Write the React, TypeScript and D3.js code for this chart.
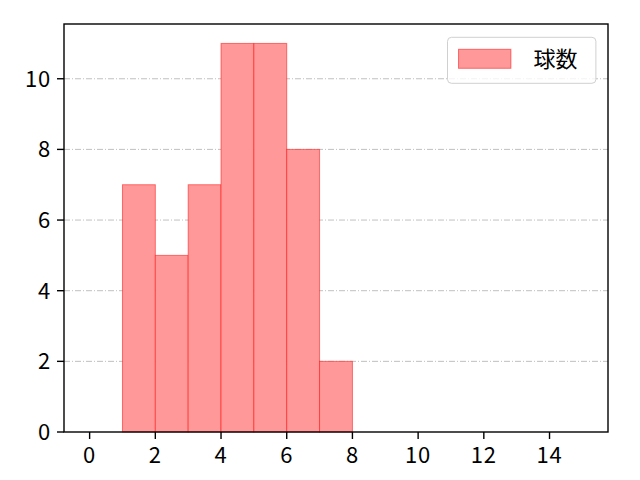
import React from 'react';
import * as d3 from 'd3';

const binStarts = [0, 1, 2, 3, 4, 5, 6, 7, 8, 9, 10, 11, 12, 13, 14];
const counts = [0, 7, 5, 7, 11, 11, 8, 2, 0, 0, 0, 0, 0, 0, 0];
const xTicks = [0, 2, 4, 6, 8, 10, 12, 14];
const yTicks = [0, 2, 4, 6, 8, 10];
const seriesLabel = '球数';

const W = 640;
const H = 480;
const margin = { top: 24, right: 32, bottom: 48, left: 64 };

const App: React.FC = () => {
  const iw = W - margin.left - margin.right;
  const ih = H - margin.top - margin.bottom;

  const x = d3.scaleLinear().domain([-0.78, 15.78]).range([0, iw]);
  const y = d3.scaleLinear().domain([0, 11.55]).range([ih, 0]);

  const font = "'Noto Sans CJK JP', 'Noto Sans', sans-serif";

  return (
    <svg width={W} height={H} style={{ display: 'block', margin: -8 }}>
      <rect width={W} height={H} fill="#ffffff" />
      <g transform={`translate(${margin.left},${margin.top})`}>
        {/* grid */}
        {yTicks.filter(t => t > 0).map(t => (
          <line key={`g${t}`} x1={0} x2={iw} y1={y(t)} y2={y(t)}
            stroke="#b0b0b0" strokeWidth={0.8} strokeDasharray="6,2,1,2" />
        ))}

        {/* bars */}
        {binStarts.map((b, i) => counts[i] > 0 && (
          <rect key={`b${b}`} x={x(b)} y={y(counts[i])}
            width={x(b + 1) - x(b)} height={y(0) - y(counts[i])}
            fill="rgb(255,153,153)" stroke="rgba(255,0,0,0.5)" strokeWidth={1} />
        ))}

        {/* frame */}
        <rect x={0} y={0} width={iw} height={ih} fill="none" stroke="#000" strokeWidth={1.4} />

        {/* x ticks */}
        {xTicks.map(t => (
          <g key={`x${t}`} transform={`translate(${x(t)},${ih})`}>
            <line y2={7} stroke="#000" strokeWidth={1.4} />
            <text y={31} textAnchor="middle" fontFamily={font} fontSize={22} letterSpacing={0.8} fill="#000">{t}</text>
          </g>
        ))}

        {/* y ticks */}
        {yTicks.map(t => (
          <g key={`y${t}`} transform={`translate(0,${y(t)})`}>
            <line x2={-7} stroke="#000" strokeWidth={1.4} />
            <text x={-13} dy="0.36em" textAnchor="end" fontFamily={font} fontSize={22} letterSpacing={0.8} fill="#000">{t}</text>
          </g>
        ))}

        {/* legend */}
        <g transform={`translate(${iw - 160.5},${13.3})`}>
          <rect width={148.4} height={46} rx={4} fill="#fff" fillOpacity={0.8} stroke="#d0d0d0" strokeWidth={1} />
          <rect x={11} y={12} width={52.4} height={19} fill="rgb(255,153,153)" stroke="rgba(255,0,0,0.5)" strokeWidth={1} />
          <text x={86} y={22} dy="0.36em" fontFamily={font} fontSize={22} fill="#000">{seriesLabel}</text>
        </g>
      </g>
    </svg>
  );
};

export default App;
